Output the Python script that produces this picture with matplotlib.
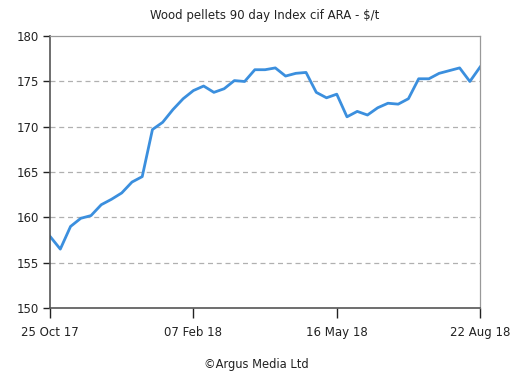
import matplotlib
matplotlib.use("Agg")
import matplotlib.pyplot as plt

# weekly assessments (27 Dec 17 not published)
dates = ["25 Oct 17", "01 Nov 17", "08 Nov 17", "15 Nov 17", "22 Nov 17", "29 Nov 17",
         "06 Dec 17", "13 Dec 17", "20 Dec 17", "03 Jan 18", "10 Jan 18", "17 Jan 18",
         "24 Jan 18", "31 Jan 18", "07 Feb 18", "14 Feb 18", "21 Feb 18", "28 Feb 18",
         "07 Mar 18", "14 Mar 18", "21 Mar 18", "28 Mar 18", "04 Apr 18", "11 Apr 18",
         "18 Apr 18", "25 Apr 18", "02 May 18", "09 May 18", "16 May 18", "23 May 18",
         "30 May 18", "06 Jun 18", "13 Jun 18", "20 Jun 18", "27 Jun 18", "04 Jul 18",
         "11 Jul 18", "18 Jul 18", "25 Jul 18", "01 Aug 18", "08 Aug 18", "15 Aug 18",
         "22 Aug 18"]
prices = [157.9, 156.5, 159.0, 159.9, 160.2, 161.4, 162.0, 162.7, 163.9, 164.5,
          169.7, 170.5, 171.9, 173.1, 174.0, 174.5, 173.8, 174.2, 175.1, 175.0,
          176.3, 176.3, 176.5, 175.6, 175.9, 176.0, 173.8, 173.2, 173.6, 171.1,
          171.7, 171.3, 172.1, 172.6, 172.5, 173.1, 175.3, 175.3, 175.9, 176.2,
          176.5, 175.0, 176.6]
tick_labels = ["25 Oct 17", "07 Feb 18", "16 May 18", "22 Aug 18"]
yticks = [150, 155, 160, 165, 170, 175, 180]

x = list(range(len(dates)))
tick_pos = [dates.index(t) for t in tick_labels]

fig = plt.figure(figsize=(5.27, 3.85), dpi=100)
ax = fig.add_axes([0.095, 0.2, 0.816, 0.706])

ax.plot(x, prices, color="#3b8fde", lw=2.0, solid_joinstyle="round")

ax.set_xlim(0, len(dates) - 1)
ax.set_ylim(150, 180)
ax.set_yticks(yticks)
ax.set_xticks(tick_pos)
ax.set_xticklabels(tick_labels)
ax.tick_params(axis="both", labelsize=8.5, colors="#222", length=5, width=1)
ax.tick_params(axis="x", length=7, pad=6)
ax.tick_params(axis="y", pad=3)

for yv in yticks[1:-1]:
    ax.axhline(yv, color="#b0b0b0", ls=(0, (4, 3)), lw=0.9, zorder=0)

for s in ("left", "bottom"):
    ax.spines[s].set_color("#555")
    ax.spines[s].set_linewidth(1.2)
for s in ("top", "right"):
    ax.spines[s].set_color("#999")
    ax.spines[s].set_linewidth(0.9)

fig.text(0.503, 0.961, "Wood pellets 90 day Index cif ARA - $/t", ha="center", va="center",
         fontsize=8.5, color="#222")
fig.text(0.487, 0.052, "©Argus Media Ltd", ha="center", va="center", fontsize=8.3, color="#222")

fig.savefig("out.png", dpi=100)
